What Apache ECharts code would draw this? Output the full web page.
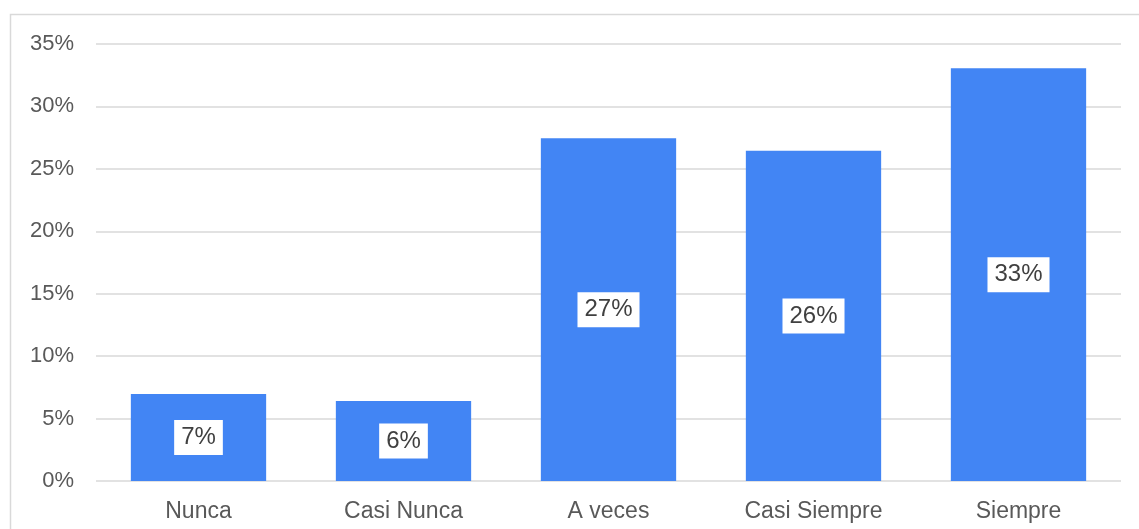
<!DOCTYPE html>
<html>
<head>
<meta charset="utf-8">
<script src="https://cdn.jsdelivr.net/npm/echarts@6/dist/echarts.min.js"></script>
<style>
html,body{margin:0;padding:0;background:#fff;}
#c{width:1139px;height:529px;}
</style>
</head>
<body>
<div id="c"></div>
<script>
const categories = ['Nunca', 'Casi Nunca', 'A veces', 'Casi Siempre', 'Siempre'];
const values = [6.97, 6.4, 27.45, 26.45, 33.05];
const yTicks = [0, 5, 10, 15, 20, 25, 30, 35];

const FONT = 'Liberation Sans, Arial, sans-serif';
const chart = echarts.init(document.getElementById('c'));
chart.setOption({
  animation: false,
  backgroundColor: '#fff',
  graphic: [{
    type: 'rect',
    shape: { x: 10.5, y: 14.5, width: 1200, height: 600 },
    style: { fill: 'none', stroke: '#d9d9d9', lineWidth: 1.5 },
    silent: true
  }],
  grid: { left: 96, right: 18, top: 44, bottom: 48 },
  xAxis: {
    type: 'category',
    data: categories,
    axisLine: { show: false },
    axisTick: { show: false },
    axisLabel: { color: '#595959', fontSize: 23, fontFamily: FONT, margin: 19 }
  },
  yAxis: {
    type: 'value',
    min: yTicks[0],
    max: yTicks[yTicks.length - 1],
    interval: 5,
    axisLine: { show: false },
    axisTick: { show: false },
    splitLine: { lineStyle: { color: '#d9d9d9', width: 1.5 } },
    axisLabel: { color: '#595959', fontSize: 22, fontFamily: FONT, margin: 22, formatter: v => v + '%' }
  },
  series: [{
    type: 'bar',
    data: values,
    barWidth: '66%',
    itemStyle: { color: '#4285F4' },
    label: {
      show: true,
      position: 'inside',
      formatter: p => Math.round(p.value) + '%',
      color: '#404040',
      fontSize: 24,
      fontFamily: FONT,
      backgroundColor: '#fff',
      padding: [6, 7, 5, 7]
    }
  }]
});
</script>
</body>
</html>
